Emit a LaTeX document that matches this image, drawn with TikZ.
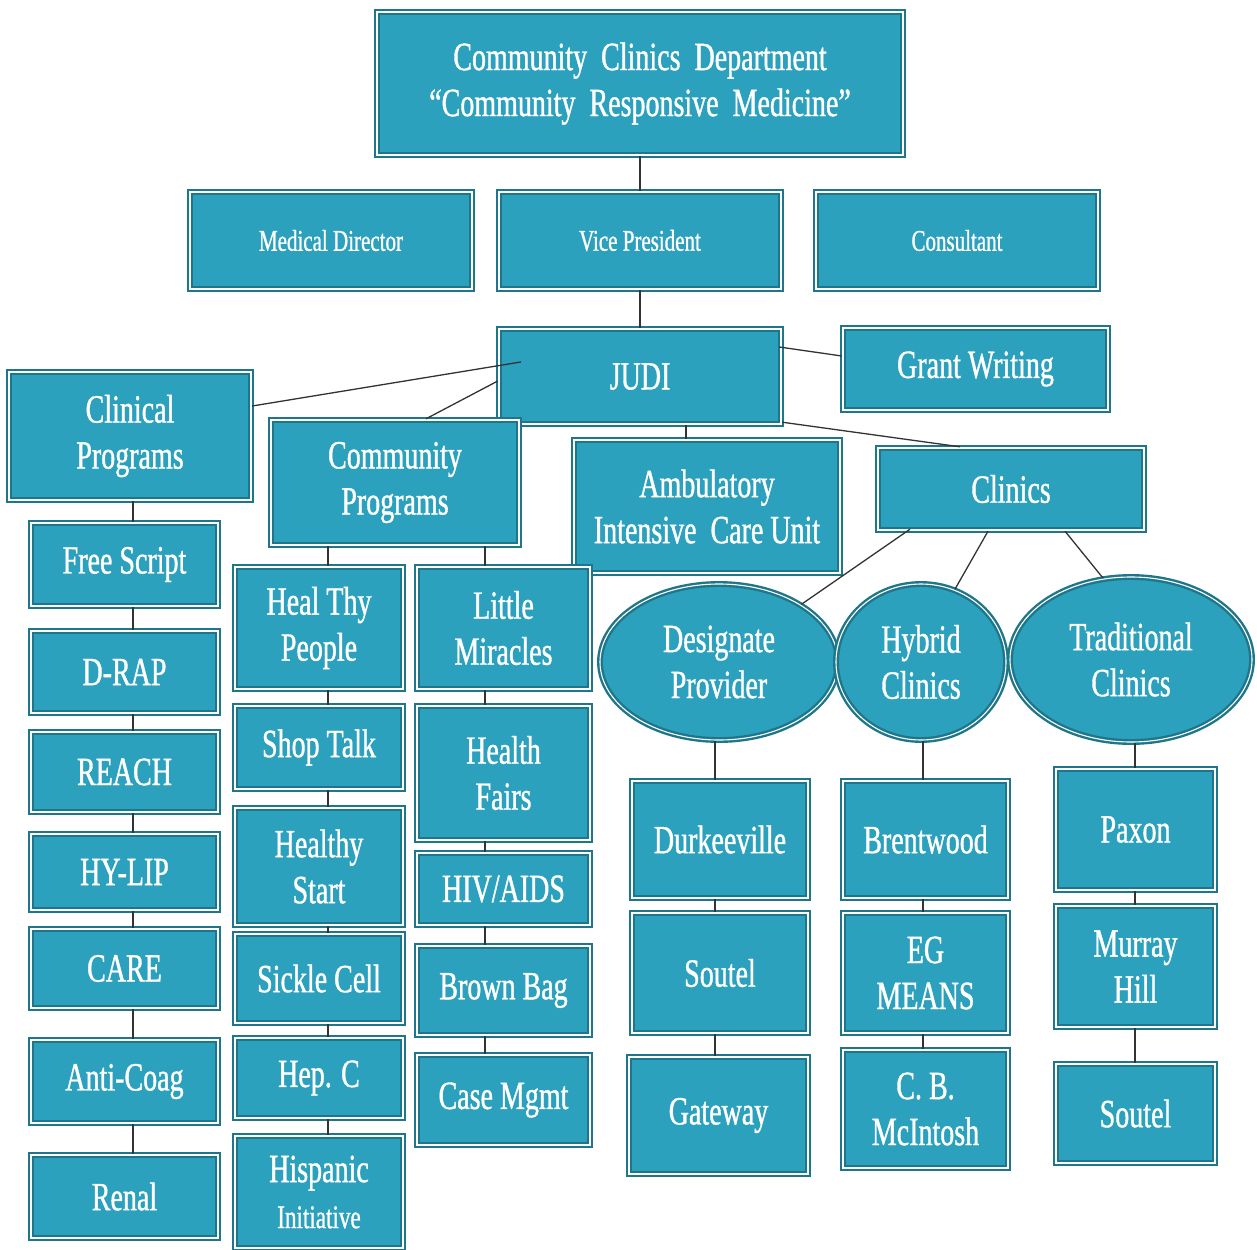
\documentclass[tikz,border=0pt]{standalone}
\usepackage{fontspec}
\setmainfont{Liberation Serif}[FakeStretch=0.7,FakeBold=0.9]
\usetikzlibrary{shapes.geometric,calc}
\definecolor{tl}{RGB}{44,161,190}
\definecolor{dk}{RGB}{30,118,138}
\newcommand\BigTxt{\fontsize{40}{46}\selectfont}
\newcommand\SmallTxt{\fontsize{30}{34}\selectfont}
\tikzset{
  box/.style={rectangle, draw=dk, double=white, double distance=1.1pt, line width=2.4pt,
    fill=tl, text=white, inner sep=0pt, align=center, font=\BigTxt},
  oval/.style={ellipse, draw=dk, double=white, double distance=1.1pt, line width=2.4pt,
    fill=tl, text=white, inner sep=0pt, align=center, font=\BigTxt},
  link/.style={draw=black!80, line width=1.3pt}
}
\begin{document}
\begin{tikzpicture}[x=1pt,y=-1pt]
\useasboundingbox (0,0) rectangle (1257,1249);
\fill[white] (0,0) rectangle (1257,1249);
% top levels
\node[box, minimum width=526, minimum height=143] (top) at (640,83.5) {Community~~Clinics~~Department\\“Community~~Responsive~~Medicine”};
\node[box, font=\SmallTxt, minimum width=282, minimum height=97] (med) at (331,240.5) {Medical~Director};
\node[box, font=\SmallTxt, minimum width=282, minimum height=97] (vp) at (640,240.5) {Vice President};
\node[box, font=\SmallTxt, minimum width=282, minimum height=97] (cons) at (957,240.5) {Consultant};
\node[box, minimum width=282, minimum height=95] (judi) at (640,376.5) {JUDI};
\node[box, minimum width=265, minimum height=82] (grant) at (975.5,369) {Grant Writing};
\node[box, minimum width=242, minimum height=128] (clin) at (130,436) {Clinical\\Programs};
\node[box, minimum width=248, minimum height=125] (comm) at (395,482.5) {Community\\Programs};
\node[box, minimum width=266, minimum height=133] (amb) at (707,506.5) {Ambulatory\\Intensive~~Care Unit};
\node[box, minimum width=266, minimum height=82] (clinics) at (1011,489) {Clinics};
\node[oval, minimum width=238, minimum height=156] (dp) at (719,662) {Designate\\Provider};
\node[oval, minimum width=170, minimum height=156] (hy) at (921,662) {Hybrid\\Clinics};
\node[oval, minimum width=242, minimum height=165] (tr) at (1131,659.5) {Traditional\\Clinics};
% column 1
\node[box, minimum width=187, minimum height=83] (fs) at (124.5,564.5) {Free Script};
\node[box, minimum width=187, minimum height=82] (drap) at (124.5,672) {D-RAP};
\node[box, minimum width=187, minimum height=80] (reach) at (124.5,772) {REACH};
\node[box, minimum width=187, minimum height=76] (hylip) at (124.5,872) {HY-LIP};
\node[box, minimum width=187, minimum height=79] (care) at (124.5,968.5) {CARE};
\node[box, minimum width=187, minimum height=83] (anti) at (124.5,1081.5) {Anti-Coag};
\node[box, minimum width=187, minimum height=83] (renal) at (124.5,1196.5) {Renal};
% column 2
\node[box, minimum width=168, minimum height=122] (htp) at (319,628) {Heal Thy\\People};
\node[box, minimum width=168, minimum height=83] (shop) at (319,747.5) {Shop Talk};
\node[box, minimum width=168, minimum height=117] (hs) at (319,866.5) {Healthy\\Start};
\node[box, minimum width=168, minimum height=89] (sc) at (319,978.5) {Sickle Cell};
\node[box, minimum width=168, minimum height=80] (hep) at (319,1078) {Hep. C};
\node[box, minimum width=168, minimum height=112] (hisp) at (319,1192) {Hispanic\\{\fontsize{33}{40}\selectfont Initiative}};
% column 3
\node[box, minimum width=173, minimum height=122] (lm) at (503.5,628) {Little\\Miracles};
\node[box, minimum width=173, minimum height=134] (hf) at (503.5,773) {Health\\Fairs};
\node[box, minimum width=173, minimum height=72] (hiv) at (503.5,889) {HIV/AIDS};
\node[box, minimum width=173, minimum height=89] (bb) at (503.5,990.5) {Brown Bag};
\node[box, minimum width=173, minimum height=90] (cm) at (503.5,1100) {Case Mgmt};
% column 4
\node[box, minimum width=176, minimum height=117] (durk) at (720,839.5) {Durkeeville};
\node[box, minimum width=176, minimum height=120] (sou) at (720,973) {Soutel};
\node[box, minimum width=179, minimum height=117] (gw) at (718.5,1115.5) {Gateway};
% column 5
\node[box, minimum width=165, minimum height=117] (bw) at (925.5,839.5) {Brentwood};
\node[box, minimum width=165, minimum height=120] (eg) at (925.5,973) {EG\\MEANS};
\node[box, minimum width=165, minimum height=118] (cb) at (925.5,1109) {C. B.\\McIntosh};
% column 6
\node[box, minimum width=159, minimum height=121] (pax) at (1135.5,829.5) {Paxon};
\node[box, minimum width=159, minimum height=121] (mh) at (1135.5,966.5) {Murray\\Hill};
\node[box, minimum width=159, minimum height=99] (sou2) at (1135.5,1113.5) {Soutel};
% column line positions
\coordinate (x1) at (133,0);
\coordinate (x2) at (328,0);
\coordinate (x3) at (485,0);
\coordinate (x4) at (715,0);
\coordinate (x5) at (923,0);
\coordinate (x6) at (1135,0);
% connectors upper
\draw[link] (top.south) -- (vp.north);
\draw[link] (vp.south) -- (judi.north);
\draw[link] ($(clin.east)+(0,-30)$) -- ($(judi.west)+(23,-14.5)$);
\draw[link] ($(comm.north)+(31,0)$) -- ($(judi.west)+(0,4.5)$);
\draw[link] ($(judi.east)+(-3,-29.5)$) -- ($(grant.west)+(0,-13)$);
\draw[link] ($(judi.south east)+(0,-3)$) -- ($(clinics.north)+(-51,0)$);
\draw[link] ($(judi.south)+(46,0)$) -- ($(amb.north)+(-21,0)$);
\draw[link] ($(clinics.south)+(-101,-2)$) -- (dp.35);
\draw[link] ($(clinics.south)+(-23,0)$) -- (hy.65);
\draw[link] ($(clinics.south)+(54,0)$) -- (tr.109);
% column 1
\draw[link] (clin.south -| x1) -- (fs.north -| x1);
\draw[link] (fs.south -| x1) -- (drap.north -| x1);
\draw[link] (drap.south -| x1) -- (reach.north -| x1);
\draw[link] (reach.south -| x1) -- (hylip.north -| x1);
\draw[link] (hylip.south -| x1) -- (care.north -| x1);
\draw[link] (care.south -| x1) -- (anti.north -| x1);
\draw[link] (anti.south -| x1) -- (renal.north -| x1);
% column 2
\draw[link] (comm.south -| x2) -- (htp.north -| x2);
\draw[link] (htp.south -| x2) -- (shop.north -| x2);
\draw[link] (shop.south -| x2) -- (hs.north -| x2);
\draw[link] (hs.south -| x2) -- (sc.north -| x2);
\draw[link] (sc.south -| x2) -- (hep.north -| x2);
\draw[link] (hep.south -| x2) -- (hisp.north -| x2);
% column 3
\draw[link] (comm.south -| x3) -- (lm.north -| x3);
\draw[link] (lm.south -| x3) -- (hf.north -| x3);
\draw[link] (hf.south -| x3) -- (hiv.north -| x3);
\draw[link] (hiv.south -| x3) -- (bb.north -| x3);
\draw[link] (bb.south -| x3) -- (cm.north -| x3);
% column 4
\draw[link] (dp.south -| x4) -- (durk.north -| x4);
\draw[link] (durk.south -| x4) -- (sou.north -| x4);
\draw[link] (sou.south -| x4) -- (gw.north -| x4);
% column 5
\draw[link] (hy.south -| x5) -- (bw.north -| x5);
\draw[link] (bw.south -| x5) -- (eg.north -| x5);
\draw[link] (eg.south -| x5) -- (cb.north -| x5);
% column 6
\draw[link] (tr.south -| x6) -- (pax.north -| x6);
\draw[link] (pax.south -| x6) -- (mh.north -| x6);
\draw[link] (mh.south -| x6) -- (sou2.north -| x6);
\end{tikzpicture}
\end{document}
